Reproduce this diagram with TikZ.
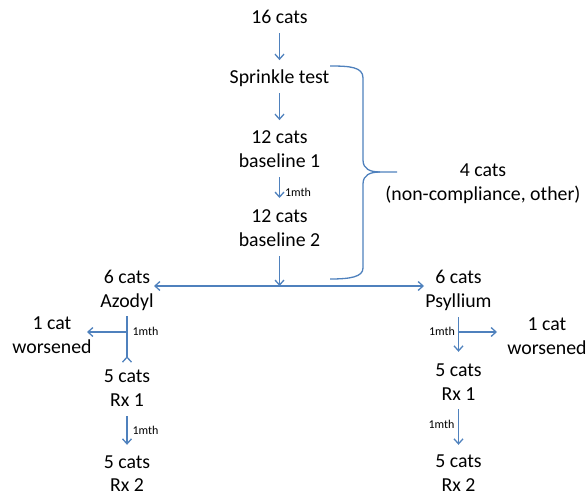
\documentclass[tikz,border=0pt]{standalone}
\usepackage{fontspec}
\setmainfont{Carlito}
\usetikzlibrary{arrows.meta}
\definecolor{lineblue}{HTML}{4F81BD}
\begin{document}
\begin{tikzpicture}[x=1bp,y=-1bp,
  txt/.style={font=\fontsize{19.8bp}{24bp}\selectfont, inner sep=0pt, anchor=base, text height=13bp, text depth=0pt},
  small/.style={font=\fontsize{12bp}{14bp}\selectfont, inner sep=0pt, anchor=base},
  conn/.style={draw=lineblue, line width=1.3bp},
  arr/.style={conn, -{Straight Barb[length=5bp,width=9bp,line width=1.3bp]}},
  revarr/.style={conn, -{Straight Barb[reversed,length=5bp,width=9bp,line width=1.3bp]}}
]
\path[use as bounding box] (0,0) rectangle (587,494);

% centre column
\node[txt] (c16) at (279.5,23.3) {16 cats};
\node[txt] (spr) at (279.5,83.3) {Sprinkle test};
\node[txt] (c12a) at (279.5,143.3) {12 cats};
\node[txt] (bl1) at (279.5,167.3) {baseline 1};
\node[txt] (c12b) at (279.5,222.7) {12 cats};
\node[txt] (bl2) at (279.5,246.7) {baseline 2};
\node[small] (m1) at (298,196.7) {1mth};

% excluded
\node[txt] (c4) at (483,177) {4 cats};
\node[txt] (nc) at (483,201) {(non-compliance, other)};

% left branch
\node[txt] (c6L) at (127,283) {6 cats};
\node[txt] (azo) at (127,307) {Azodyl};
\node[txt] (c1L) at (52,329) {1 cat};
\node[txt] (wL) at (52,353) {worsened};
\node[txt] (c5L) at (127,382) {5 cats};
\node[txt] (rx1L) at (127,406) {Rx 1};
\node[txt] (c5L2) at (127,468) {5 cats};
\node[txt] (rx2L) at (127,491) {Rx 2};
\node[small] (m2) at (145.5,335.5) {1mth};
\node[small] (m3) at (145.5,434.5) {1mth};

% right branch
\node[txt] (c6R) at (458.5,283) {6 cats};
\node[txt] (psy) at (458.5,307) {Psyllium};
\node[txt] (c1R) at (547,330) {1 cat};
\node[txt] (wR) at (547,354) {worsened};
\node[txt] (c5R) at (458.5,376) {5 cats};
\node[txt] (rx1R) at (458.5,400) {Rx 1};
\node[txt] (c5R2) at (458.5,467.5) {5 cats};
\node[txt] (rx2R) at (458.5,491) {Rx 2};
\node[small] (m4) at (442,335.7) {1mth};
\node[small] (m5) at (441.5,428.3) {1mth};

% coordinates
\coordinate (split) at (279.5,286);
\coordinate (tipAz) at (154,286);
\coordinate (tipPs) at (424,286);
\coordinate (brL) at (127,332);
\coordinate (tipWL) at (87,332);
\coordinate (brR) at (458.5,332);
\coordinate (tipWR) at (497,332);

% connectors centre
\draw[arr, shorten <=10bp, shorten >=10bp] (c16.south) -- (spr.north);
\draw[arr, shorten <=10bp, shorten >=10bp] (spr.south) -- (c12a.north);
\draw[arr, shorten <=10bp, shorten >=11.5bp] (bl1.south) -- (c12b.north);
\draw[arr, shorten <=9.5bp] (bl2.south) -- (split);
\draw[arr] (split) -- (tipAz);
\draw[arr] (split) -- (tipPs);

% left connectors
\draw[revarr, shorten <=9bp, shorten >=6bp] (azo.south) -- (c5L.north);
\draw[arr] (brL) -- (tipWL);
\draw[arr, shorten <=10bp, shorten >=10bp] (rx1L.south) -- (c5L2.north);

% right connectors
\draw[arr, shorten <=10bp, shorten >=11bp] (psy.south) -- (c5R.north);
\draw[arr] (brR) -- (tipWR);
\draw[arr, shorten <=9bp, shorten >=9.5bp] (rx1R.south) -- (c5R2.north);

% brace
\draw[conn] (330,66) .. controls (350,66) and (363,67) .. (363,78)
  -- (363,160) .. controls (363,169) and (370,172) .. (380,172) -- (397,172);
\draw[conn] (380,172) .. controls (370,172) and (363,175) .. (363,184)
  -- (363,268) .. controls (363,277) and (350,279) .. (330,279);
\end{tikzpicture}
\end{document}
